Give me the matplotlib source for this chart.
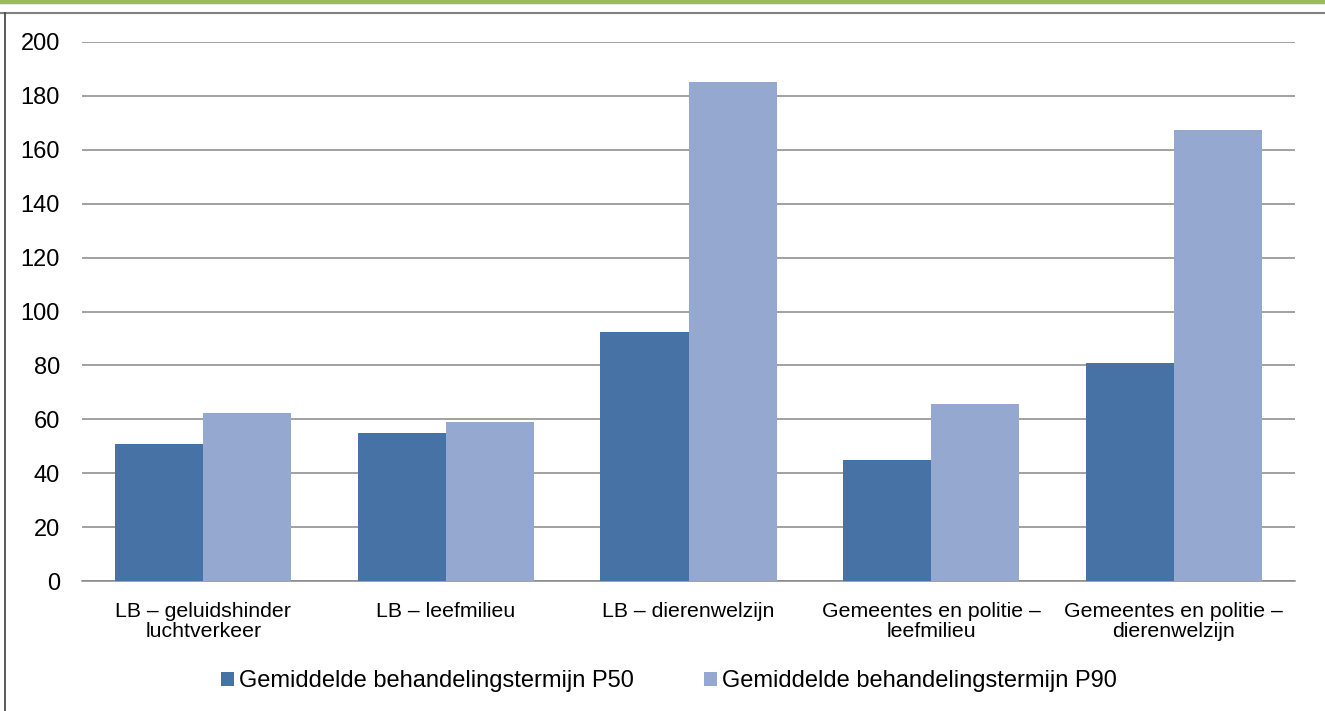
import numpy as np
import matplotlib.pyplot as plt
from matplotlib.lines import Line2D

plt.rcParams['font.family'] = ['Liberation Sans', 'DejaVu Sans']

categories = ['LB – geluidshinder\nluchtverkeer', 'LB – leefmilieu', 'LB – dierenwelzijn',
              'Gemeentes en politie –\nleefmilieu', 'Gemeentes en politie –\ndierenwelzijn']
p50 = [51, 55, 92.5, 45, 81]
p90 = [62.5, 59, 185, 65.5, 167.5]
series_names = ['Gemiddelde behandelingstermijn P50', 'Gemiddelde behandelingstermijn P90']
yticks = [0, 20, 40, 60, 80, 100, 120, 140, 160, 180, 200]

c50 = '#4672a6'
c90 = '#95a9d0'
grid = '#888888'

W, H = 1325, 711
fig = plt.figure(figsize=(W / 100, H / 100), dpi=100)

# decorative frame: green band on top, gray border lines top and left
fig.add_artist(Line2D([0, 1], [1 - 1.5 / H, 1 - 1.5 / H], color='#9bbb59', lw=3.2))
fig.add_artist(Line2D([0, 1], [1 - 12.5 / H, 1 - 12.5 / H], color='#808080', lw=1.5))
fig.add_artist(Line2D([4.5 / W, 4.5 / W], [0, 1 - 12.5 / H], color='#404040', lw=1.2))

ax = fig.add_axes([82 / W, 1 - 581 / H, (1295 - 82) / W, (581 - 42) / H])

x = np.arange(len(categories))
bw = 0.3628
ax.bar(x - bw / 2, p50, bw, color=c50, label=series_names[0], zorder=3)
ax.bar(x + bw / 2, p90, bw, color=c90, label=series_names[1], zorder=3)

ax.set_xlim(-0.5, len(categories) - 0.5)
ax.set_ylim(0, 200)
ax.set_yticks(yticks)
ax.set_yticklabels([str(v) for v in yticks], fontsize=17)
ax.set_xticks(x)
ax.set_xticklabels(categories, fontsize=15.3, linespacing=1.05)
ax.tick_params(axis='both', length=0)
ax.tick_params(axis='y', pad=16)
ax.tick_params(axis='x', pad=15)
ax.yaxis.grid(True, color=grid, lw=1.1, zorder=0)
for s in ['top', 'right', 'left']:
    ax.spines[s].set_visible(False)
ax.spines['bottom'].set_color(grid)
ax.spines['bottom'].set_linewidth(1.1)

fig.legend(*ax.get_legend_handles_labels(), loc='center',
           bbox_to_anchor=(669 / W, 1 - 681 / H), ncol=2, frameon=False,
           fontsize=17, handlelength=0.55, handleheight=0.55, handletextpad=0.2,
           columnspacing=3.0)

fig.savefig('out.png', dpi=100)
